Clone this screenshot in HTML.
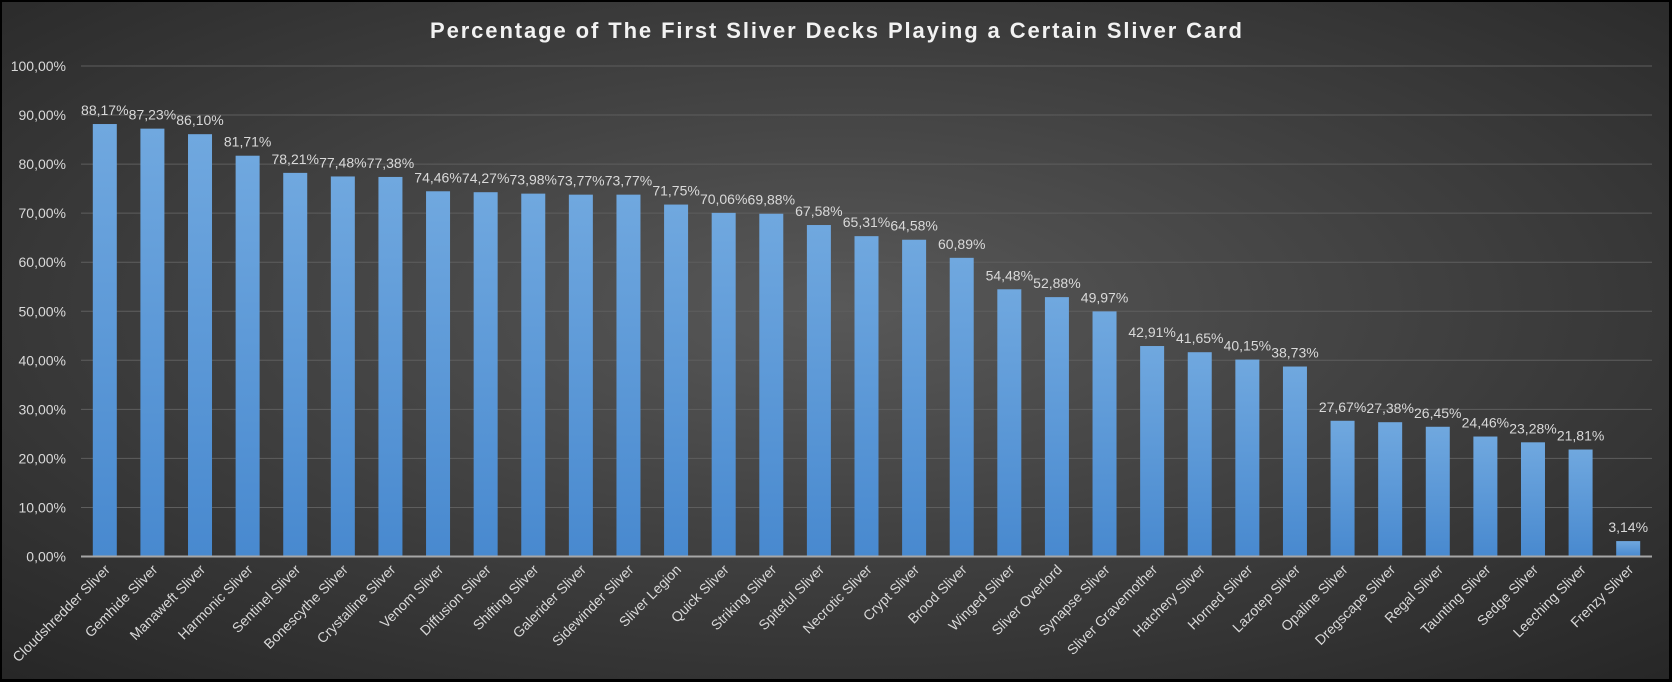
<!DOCTYPE html>
<html><head><meta charset="utf-8"><style>
html,body{margin:0;padding:0;background:#000;}
svg{display:block;font-family:"Liberation Sans",sans-serif;}
</style></head><body>
<svg id="chart" width="1672" height="682" viewBox="0 0 1672 682">
<defs>
<radialGradient id="bg" cx="50%" cy="45%" r="75%">
<stop offset="0" stop-color="#585858"/><stop offset="1" stop-color="#262626"/>
</radialGradient>
<linearGradient id="barg" x1="0" y1="0" x2="0" y2="1">
<stop offset="0" stop-color="#70a8df"/><stop offset="1" stop-color="#4889cf"/>
</linearGradient>
</defs>
<rect x="1" y="1" width="1669" height="679" fill="url(#bg)" stroke="#000" stroke-width="2"/>
<text x="836" y="38" text-anchor="middle" fill="#f2f2f2" font-size="22" font-weight="bold" textLength="812" lengthAdjust="spacing">Percentage of The First Sliver Decks Playing a Certain Sliver Card</text>
<g id="grid"></g><g id="bars"></g><g id="labels"></g>
</svg>
<script>
const categories=["Cloudshredder Sliver","Gemhide Sliver","Manaweft Sliver","Harmonic Sliver","Sentinel Sliver","Bonescythe Sliver","Crystalline Sliver","Venom Sliver","Diffusion Sliver","Shifting Sliver","Galerider Sliver","Sidewinder Sliver","Sliver Legion","Quick Sliver","Striking Sliver","Spiteful Sliver","Necrotic Sliver","Crypt Sliver","Brood Sliver","Winged Sliver","Sliver Overlord","Synapse Sliver","Sliver Gravemother","Hatchery Sliver","Horned Sliver","Lazotep Sliver","Opaline Sliver","Dregscape Sliver","Regal Sliver","Taunting Sliver","Sedge Sliver","Leeching Sliver","Frenzy Sliver"];
const values=[88.17,87.23,86.10,81.71,78.21,77.48,77.38,74.46,74.27,73.98,73.77,73.77,71.75,70.06,69.88,67.58,65.31,64.58,60.89,54.48,52.88,49.97,42.91,41.65,40.15,38.73,27.67,27.38,26.45,24.46,23.28,21.81,3.14];
const yTicks=[0,10,20,30,40,50,60,70,80,90,100];
const NS="http://www.w3.org/2000/svg";
const L=81,R=1652,T=66,B=556.5;
const step=(R-L)/categories.length;
const y=v=>B-(v/100)*(B-T);
const xc=i=>L+step*(i+0.5);
const fmt=v=>v.toFixed(2).replace('.',',')+'%';
function mk(tag,attrs,parent,txt){const e=document.createElementNS(NS,tag);for(const k in attrs)e.setAttribute(k,attrs[k]);if(txt!==undefined)e.textContent=txt;parent.appendChild(e);return e;}
const grid=document.getElementById('grid'),bars=document.getElementById('bars'),labels=document.getElementById('labels');
yTicks.forEach(t=>{
  if(t>0){const g=mk('line',{x1:L,x2:R,y1:y(t),y2:y(t),stroke:'#5e5e5e','stroke-width':1},grid);
  
  }
  const tx=mk('text',{x:66,y:y(t)+5,'text-anchor':'end',fill:'#d9d9d9','font-size':14},grid,t.toFixed(2).replace('.',',')+'%');
  
  
});
values.forEach((v,i)=>{
  const b=mk('rect',{x:xc(i)-12,y:y(v),width:24,height:B-y(v),fill:'url(#barg)'},bars);
  
  
  const lb=mk('text',{x:xc(i),y:y(v)-9,'text-anchor':'middle',fill:'#d9d9d9','font-size':14},labels,fmt(v));
  
  
  const xl=mk('text',{x:xc(i)+6,y:B+14,'text-anchor':'end',fill:'#d9d9d9','font-size':14,transform:`rotate(-45 ${xc(i)+6} ${B+14})`},labels,categories[i]);
  
  
});
const ax=mk('line',{x1:L,x2:R,y1:B,y2:B,stroke:'#a6a6a6','stroke-width':2},labels);


</script>
</body></html>
